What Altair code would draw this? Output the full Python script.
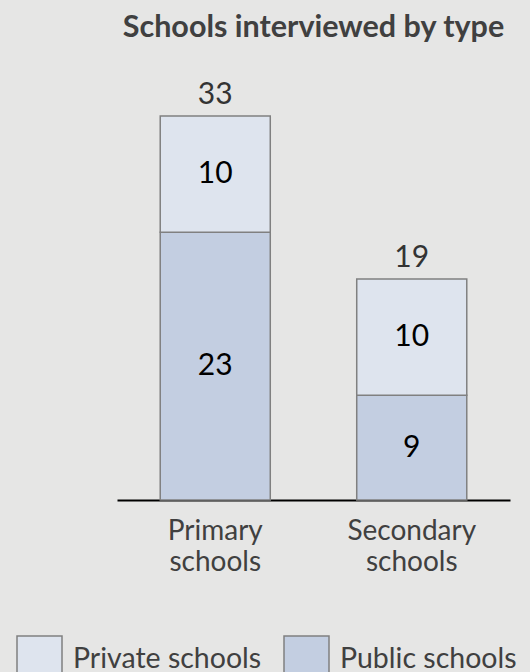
import altair as alt
import pandas as pd

categories = ["Primary schools", "Secondary schools"]
public_vals = [23, 9]
private_vals = [10, 10]
series = ["Private schools", "Public schools"]
colors = ["#dee4ee", "#c3cee1"]

rows = []
for c, pu, pr in zip(categories, public_vals, private_vals):
    rows.append({"cat": c, "series": "Public schools", "value": pu, "order": 0,
                 "mid": pu / 2})
    rows.append({"cat": c, "series": "Private schools", "value": pr, "order": 1,
                 "mid": pu + pr / 2})
df = pd.DataFrame(rows)
totals = pd.DataFrame({"cat": categories,
                       "total": [a + b for a, b in zip(public_vals, private_vals)]})

H = 440
ymax = H / (384 / 33)
FONT = "Lato"

x = alt.X("cat:N", sort=categories, title=None,
          scale=alt.Scale(paddingInner=0.44, paddingOuter=0.22),
          axis=alt.Axis(labelExpr="split(datum.label, ' ')", labelAngle=0,
                        labelFontSize=28, labelFont=FONT, labelColor="#404040",
                        labelLineHeight=31, labelPadding=17, ticks=False,
                        domainColor="#000000", domainWidth=2))
yscale = alt.Scale(domain=[0, ymax], nice=False)

bars = alt.Chart(df).mark_bar(stroke="#808080", strokeWidth=1.5).encode(
    x=x,
    y=alt.Y("value:Q", stack="zero", scale=yscale, axis=None),
    order=alt.Order("order:Q"),
    color=alt.Color("series:N", scale=alt.Scale(domain=series, range=colors),
                    legend=alt.Legend(title=None, orient="none", direction="horizontal",
                                      legendX=-101, legendY=575,
                                      symbolType="square", symbolSize=2025,
                                      symbolStrokeColor="#808080", symbolStrokeWidth=1.5,
                                      symbolOpacity=1, labelLimit=400,
                                      labelFontSize=28.5, labelFont=FONT,
                                      labelColor="#404040", labelOffset=10,
                                      columnPadding=19)),
)

seg_text = alt.Chart(df).mark_text(fontSize=30, font=FONT, color="#000000",
                                   baseline="middle").encode(
    x=alt.X("cat:N", sort=categories),
    y=alt.Y("mid:Q", scale=yscale),
    text="value:Q",
)

tot_text = alt.Chart(totals).mark_text(fontSize=30, font=FONT, color="#333333",
                                       baseline="alphabetic", dy=-12).encode(
    x=alt.X("cat:N", sort=categories),
    y=alt.Y("total:Q", scale=yscale),
    text="total:Q",
)

chart = alt.layer(bars, seg_text, tot_text).properties(
    width=393, height=H,
    title=alt.TitleParams("Schools interviewed by type", anchor="middle",
                          font=FONT, fontSize=30.5, fontWeight="bold",
                          color="#404040", offset=17),
    autosize=alt.AutoSizeParams(type="none"),
    padding={"left": 117, "top": 60, "right": 20, "bottom": 172},
    background="#e6e6e5",
).configure_view(stroke=None)

chart.save("out.html", embed_options={"renderer": "svg", "actions": False})
